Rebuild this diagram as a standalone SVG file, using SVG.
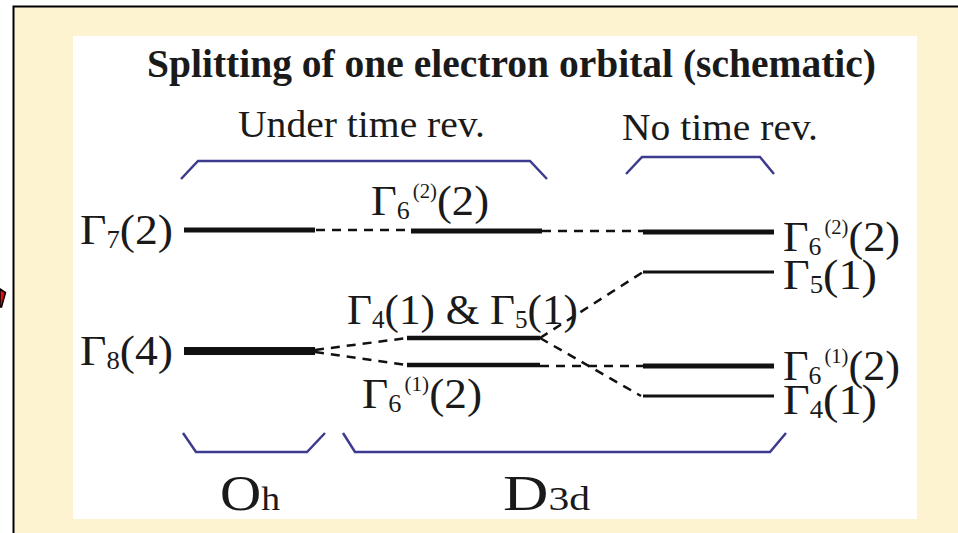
<svg xmlns="http://www.w3.org/2000/svg" width="958" height="533" viewBox="0 0 958 533">
<defs>
<style>
text{font-family:"Liberation Serif","Times New Roman",serif;fill:#1a1a1a}
.lbl{font-size:43px}
.sub{font-size:25px}
.sup{font-size:20px}
.title{font-size:40px;font-weight:bold}
.hdr{font-size:38px}
.grp{font-size:50px}
.grps{font-size:33px}
.lvl{stroke:#111;fill:none}
.thick{stroke-width:5}
.heavy{stroke-width:8}
.mid{stroke-width:4.5}
.thin{stroke-width:3}
.dash{stroke:#111;stroke-width:2.5;stroke-dasharray:9 7;fill:none}
.brk{stroke:#3d3b8e;stroke-width:2.5;fill:none;stroke-linejoin:miter}
</style>
</defs>
<rect x="0" y="0" width="958" height="533" fill="#ffffff"/>
<rect x="13.5" y="6.5" width="960" height="540" fill="#fdf3d0" stroke="#000" stroke-width="2"/>
<polygon points="0,289 5.5,292.5 1.5,307 0,307" fill="#e01010" stroke="#000" stroke-width="1.5"/>
<rect x="73" y="36" width="844" height="483" fill="#ffffff"/>

<text class="title" x="147" y="77" textLength="729" lengthAdjust="spacingAndGlyphs">Splitting of one electron orbital (schematic)</text>
<text class="hdr" x="238" y="137" textLength="247" lengthAdjust="spacingAndGlyphs">Under time rev.</text>
<text class="hdr" x="622" y="140" textLength="196" lengthAdjust="spacingAndGlyphs">No time rev.</text>

<g id="brackets">
<polyline class="brk" points="181,179 198,161 530,161 547,179"/>
<polyline class="brk" points="626,174 642,157 760,157 774,174"/>
<polyline class="brk" points="183,433 196,452 307,452 325,433"/>
<polyline class="brk" points="343,433 355,452 770,452 786,433"/>
</g>

<g id="connectors">
<line class="dash" x1="316" y1="230" x2="411" y2="230"/>
<line class="dash" x1="542" y1="231" x2="643" y2="231"/>
<line class="dash" x1="315" y1="350" x2="407" y2="338"/>
<line class="dash" x1="315" y1="352" x2="407" y2="365"/>
<line class="dash" x1="540" y1="338" x2="643" y2="272"/>
<line class="dash" x1="540" y1="338" x2="641" y2="396"/>
<line class="dash" x1="540" y1="366" x2="643" y2="366"/>
</g>

<g id="oh-g7">
<line class="lvl thick" x1="184" y1="230" x2="315" y2="230"/>
<text class="lbl" x="80" y="244" textLength="93" lengthAdjust="spacingAndGlyphs">Γ<tspan class="sub" dy="4">7</tspan><tspan dy="-4">(2)</tspan></text>
</g>
<g id="oh-g8">
<line class="lvl heavy" x1="184" y1="351" x2="315" y2="351"/>
<text class="lbl" x="80" y="365" textLength="93" lengthAdjust="spacingAndGlyphs">Γ<tspan class="sub" dy="4">8</tspan><tspan dy="-4">(4)</tspan></text>
</g>

<g id="d3d-g6-2">
<line class="lvl thick" x1="411" y1="231" x2="542" y2="231"/>
<text class="lbl" x="371" y="215" textLength="118" lengthAdjust="spacingAndGlyphs">Γ<tspan class="sub" dy="4">6</tspan><tspan class="sup" dx="3" dy="-21">(2)</tspan><tspan dy="17">(2)</tspan></text>
</g>
<g id="d3d-g45">
<line class="lvl mid" x1="407" y1="338" x2="540" y2="338"/>
<text class="lbl" x="347" y="324" textLength="231" lengthAdjust="spacingAndGlyphs">Γ<tspan class="sub" dy="4">4</tspan><tspan dy="-4">(1) &amp; Γ</tspan><tspan class="sub" dy="4">5</tspan><tspan dy="-4">(1)</tspan></text>
</g>
<g id="d3d-g6-1">
<line class="lvl mid" x1="407" y1="365" x2="540" y2="365"/>
<text class="lbl" x="362" y="408" textLength="120" lengthAdjust="spacingAndGlyphs">Γ<tspan class="sub" dy="4">6</tspan><tspan class="sup" dx="3" dy="-21">(1)</tspan><tspan dy="17">(2)</tspan></text>
</g>

<g id="nt-g6-2">
<line class="lvl thick" x1="643" y1="232" x2="774" y2="232"/>
<text class="lbl" x="783" y="251" textLength="117" lengthAdjust="spacingAndGlyphs">Γ<tspan class="sub" dy="4">6</tspan><tspan class="sup" dx="3" dy="-21">(2)</tspan><tspan dy="17">(2)</tspan></text>
</g>
<g id="nt-g5">
<line class="lvl thin" x1="643" y1="272" x2="774" y2="272"/>
<text class="lbl" x="783" y="289" textLength="94" lengthAdjust="spacingAndGlyphs">Γ<tspan class="sub" dy="4">5</tspan><tspan dy="-4">(1)</tspan></text>
</g>
<g id="nt-g6-1">
<line class="lvl thick" x1="643" y1="366" x2="774" y2="366"/>
<text class="lbl" x="783" y="380" textLength="117" lengthAdjust="spacingAndGlyphs">Γ<tspan class="sub" dy="4">6</tspan><tspan class="sup" dx="3" dy="-21">(1)</tspan><tspan dy="17">(2)</tspan></text>
</g>
<g id="nt-g4">
<line class="lvl thin" x1="643" y1="396" x2="774" y2="396"/>
<text class="lbl" x="783" y="414" textLength="94" lengthAdjust="spacingAndGlyphs">Γ<tspan class="sub" dy="4">4</tspan><tspan dy="-4">(1)</tspan></text>
</g>

<g id="group-labels">
<text class="grp" x="220" y="510" textLength="60" lengthAdjust="spacingAndGlyphs">O<tspan class="grps">h</tspan></text>
<text class="grp" x="503" y="510" textLength="87" lengthAdjust="spacingAndGlyphs">D<tspan class="grps">3d</tspan></text>
</g>
</svg>
